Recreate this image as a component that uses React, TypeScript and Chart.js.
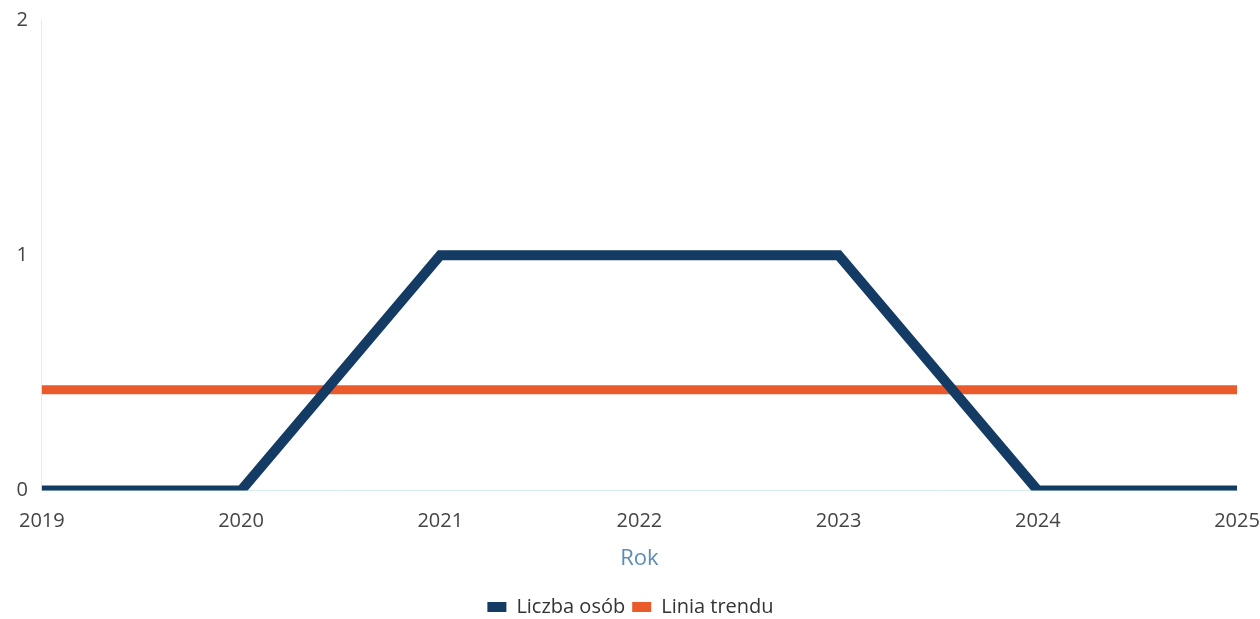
import React, { useEffect, useRef } from "react";
import { Chart, registerables } from "chart.js";

Chart.register(...registerables);

const years = ["2019", "2020", "2021", "2022", "2023", "2024", "2025"];
const liczbaOsob = [0, 0, 1, 1, 1, 0, 0];
const liniaTrendu = [0.4286, 0.4286, 0.4286, 0.4286, 0.4286, 0.4286, 0.4286];
const yTicks = [0, 1, 2];

const FONT = "'Open Sans'";

export default function App() {
  const ref = useRef<HTMLCanvasElement | null>(null);
  useEffect(() => {
    document.body.style.margin = "0";
    const ctx = ref.current!;
    const chart = new Chart(ctx, {
      type: "line",
      data: {
        labels: years,
        datasets: [
          {
            label: "Liczba osób",
            data: liczbaOsob,
            borderColor: "#133b63",
            backgroundColor: "#133b63",
            borderWidth: 10,
            pointRadius: 0,
            borderJoinStyle: "miter",
            borderCapStyle: "butt",
            tension: 0,
          },
          {
            label: "Linia trendu",
            data: liniaTrendu,
            borderColor: "#ea5a2a",
            backgroundColor: "#ea5a2a",
            borderWidth: 9,
            pointRadius: 0,
            tension: 0,
          },
        ],
      },
      options: {
        animation: false,
        responsive: false,
        maintainAspectRatio: false,
        layout: { padding: { top: 0, left: 1, right: 0, bottom: -8 } },
        plugins: {
          tooltip: { enabled: false },
          legend: {
            position: "bottom",
            labels: {
              boxWidth: 19,
              boxHeight: 10,
              padding: 7,
              color: "#333",
              font: { family: FONT, size: 20 },
              generateLabels: (c: any) =>
                Chart.defaults.plugins.legend.labels
                  .generateLabels(c)
                  .map((l: any) => ({ ...l, lineWidth: 0 })),
            },
          },
        },
        scales: {
          x: {
            offset: false,
            afterFit: (s: any) => {
              s.paddingRight = 23;
            },
            grid: { display: false, drawTicks: false },
            border: { display: true, color: "#d5ecec", dash: [2, 2], width: 1 },
            ticks: {
              color: "#444",
              padding: 19,
              maxRotation: 0,
              font: { family: FONT, size: 20 },
            },
            title: {
              display: true,
              text: "Rok",
              color: "#5b8db5",
              padding: { top: -7, bottom: 18 },
              font: { family: FONT, size: 22 },
            },
          },
          y: {
            min: 0,
            max: 2,
            afterBuildTicks: (axis: any) => {
              axis.ticks = yTicks.map((v) => ({ value: v }));
            },
            afterFit: (s: any) => {
              s.paddingTop = 20;
            },
            grid: { display: false, drawTicks: false },
            border: { display: true, color: "#e6ecee", dash: [2, 2], width: 1 },
            ticks: {
              color: "#444",
              padding: 14,
              font: { family: FONT, size: 20 },
            },
          },
        },
      },
    });
    return () => chart.destroy();
  }, []);
  return (
    <div style={{ width: 1260, height: 619 }}>
      <canvas ref={ref} width={1260} height={619} style={{ display: "block" }} />
    </div>
  );
}
